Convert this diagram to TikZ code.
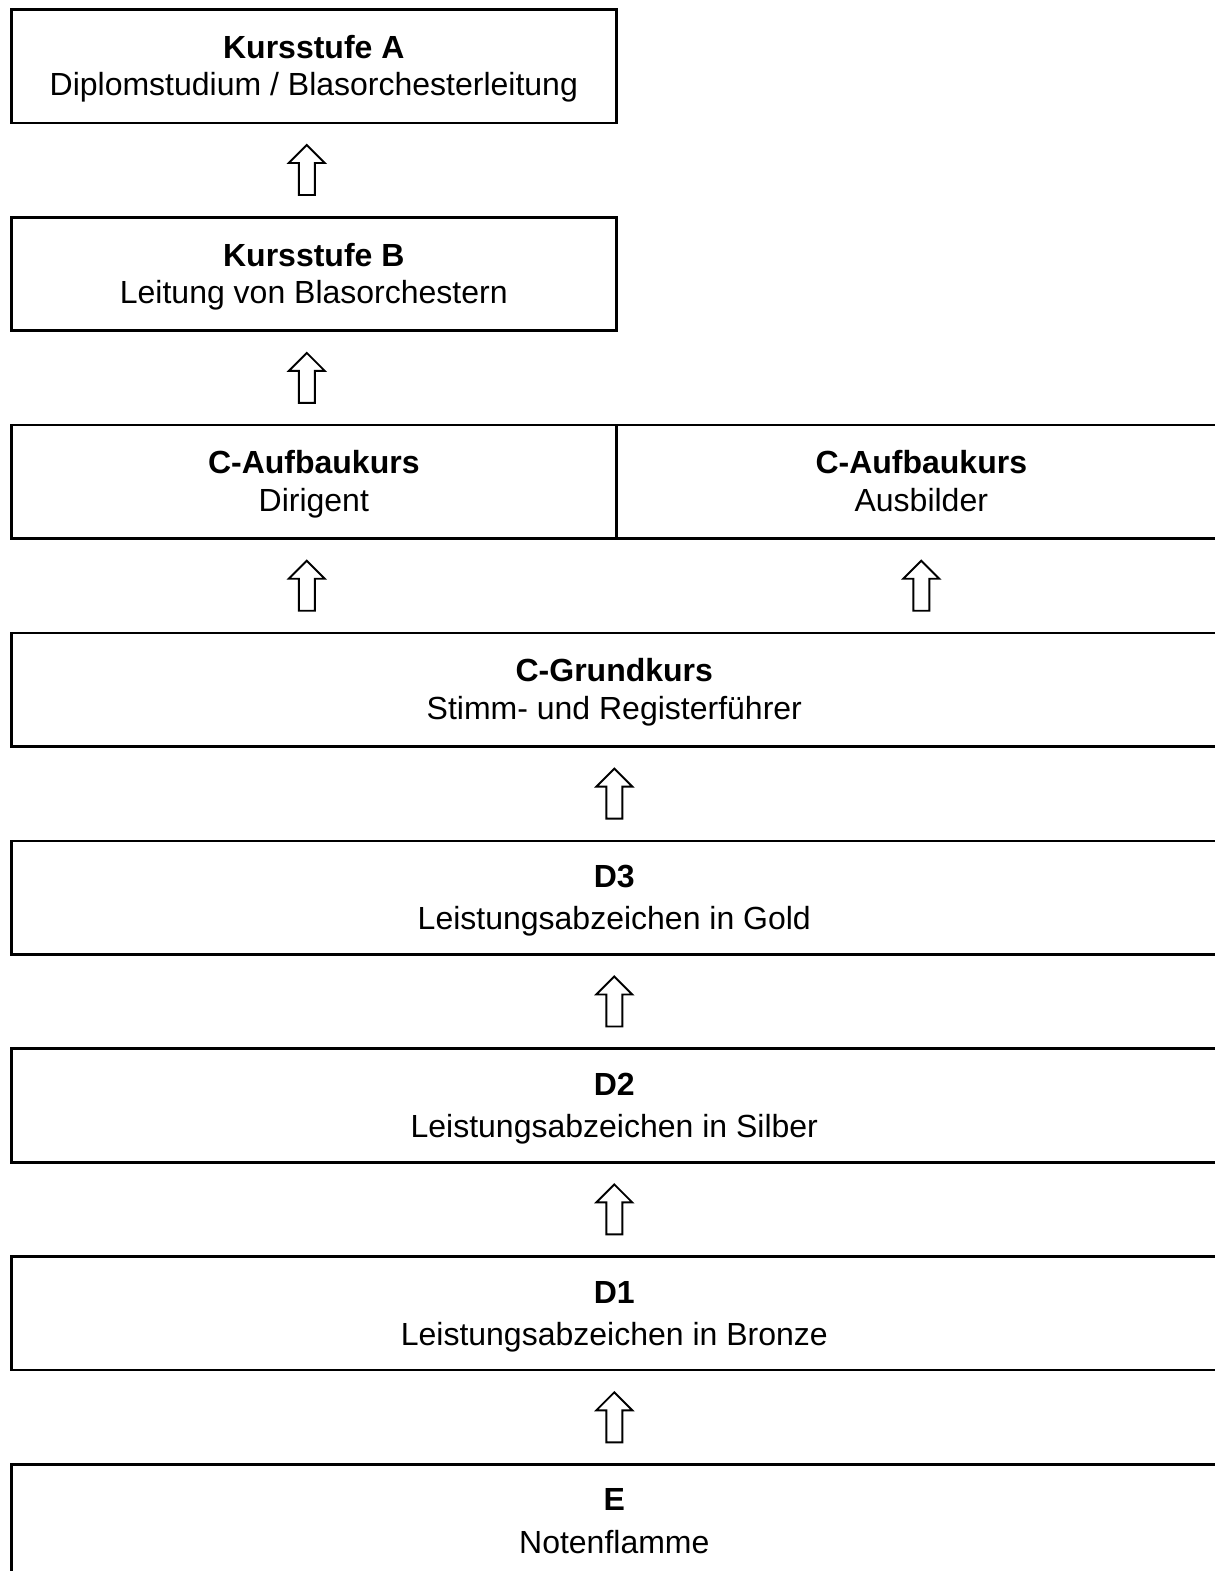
\documentclass[tikz,border=0pt]{standalone}
\usepackage{fontspec}
\setmainfont{Liberation Sans}
\usetikzlibrary{calc}
\newcommand{\boxtext}[3]{\rule{0pt}{31.2pt}\textbf{#1}\\[#3]#2\rule[-9.5pt]{0pt}{9.5pt}}
\begin{document}
\begin{tikzpicture}[x=1pt,y=-1pt,
  box/.style={draw=black,line width=2.6pt,inner sep=0pt,anchor=north west,
    minimum height=113.5pt,align=center,
    font=\fontsize{32}{36}\selectfont},
  uparrow/.pic={\draw[black,line width=1.9pt,fill=white]
    (-8,25) -- (-8,-7) -- (-18,-7) -- (0,-25) -- (18,-7) -- (8,-7) -- (8,25) -- cycle;}]
\clip (0,0) rectangle (1215,1571);
\fill[white] (0,0) rectangle (1215,1571);
\node[box,minimum width=605pt] (A) at (10,8) {\boxtext{Kursstufe A}{Diplomstudium / Blasorchesterleitung}{1.5pt}};
\node[box,minimum width=605pt] (B) at (10,215.9) {\boxtext{Kursstufe B}{Leitung von Blasorchestern}{1.5pt}};
\node[box,minimum width=605pt] (CD) at (10,423.8) {\boxtext{C-Aufbaukurs}{Dirigent}{1.5pt}};
\node[box,minimum width=610pt] (CA) at (615,423.8) {\boxtext{C-Aufbaukurs}{Ausbilder}{1.5pt}};
\node[box,minimum width=1206pt] (CG) at (10,631.6) {\boxtext{C-Grundkurs}{Stimm- und Registerführer}{1.5pt}};
\node[box,minimum width=1206pt] (D3) at (10,839.5) {\boxtext{D3}{Leistungsabzeichen in Gold}{6.3pt}};
\node[box,minimum width=1206pt] (D2) at (10,1047.4) {\boxtext{D2}{Leistungsabzeichen in Silber}{6.3pt}};
\node[box,minimum width=1206pt] (D1) at (10,1255.3) {\boxtext{D1}{Leistungsabzeichen in Bronze}{6.3pt}};
\node[box,minimum width=1206pt] (E) at (10,1463.2) {\boxtext{E}{Notenflamme}{6.3pt}};
\coordinate (a1) at ($(A.south)!0.5!(B.north)$);
\coordinate (a2) at ($(B.south)!0.5!(CD.north)$);
\coordinate (a3) at ($(CD.south)!0.5!(CD.south|-CG.north)$);
\coordinate (a4) at ($(CA.south)!0.5!(CA.south|-CG.north)$);
\coordinate (a5) at ($(CG.south)!0.5!(D3.north)$);
\coordinate (a6) at ($(D3.south)!0.5!(D2.north)$);
\coordinate (a7) at ($(D2.south)!0.5!(D1.north)$);
\coordinate (a8) at ($(D1.south)!0.5!(E.north)$);
\foreach \c in {a1,a2,a3} {\pic at ([xshift=-7pt]\c) {uparrow};}
\foreach \c in {a4,a5,a6,a7,a8} {\pic at (\c) {uparrow};}
\end{tikzpicture}
\end{document}
